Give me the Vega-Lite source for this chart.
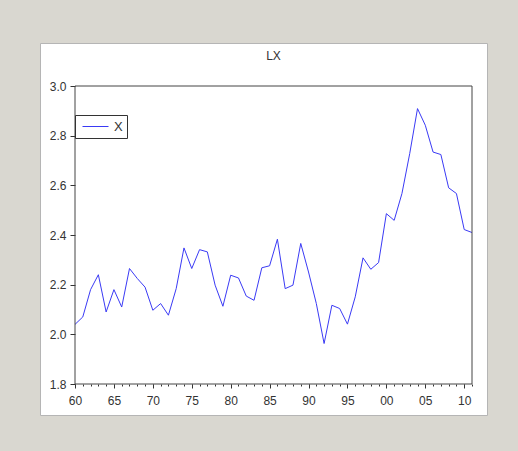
{
  "$schema": "https://vega.github.io/schema/vega-lite/v6.json",
  "width": 447,
  "height": 372,
  "autosize": "none",
  "padding": {"left": 40, "top": 43, "right": 31, "bottom": 36},
  "background": "#d9d7d0",
  "title": {
    "text": "LX",
    "fontSize": 12,
    "fontWeight": "normal",
    "color": "#333333",
    "font": "Liberation Sans",
    "anchor": "middle",
    "frame": "group",
    "offset": -20,
    "dx": 10
  },
  "layer": [
    {
      "data": {
        "values": [
          {"year": 1960, "value": 2.04, "series": "X"},
          {"year": 1961, "value": 2.07, "series": "X"},
          {"year": 1962, "value": 2.18, "series": "X"},
          {"year": 1963, "value": 2.24, "series": "X"},
          {"year": 1964, "value": 2.09, "series": "X"},
          {"year": 1965, "value": 2.18, "series": "X"},
          {"year": 1966, "value": 2.11, "series": "X"},
          {"year": 1967, "value": 2.265, "series": "X"},
          {"year": 1968, "value": 2.225, "series": "X"},
          {"year": 1969, "value": 2.19, "series": "X"},
          {"year": 1970, "value": 2.097, "series": "X"},
          {"year": 1971, "value": 2.124, "series": "X"},
          {"year": 1972, "value": 2.077, "series": "X"},
          {"year": 1973, "value": 2.184, "series": "X"},
          {"year": 1974, "value": 2.348, "series": "X"},
          {"year": 1975, "value": 2.265, "series": "X"},
          {"year": 1976, "value": 2.341, "series": "X"},
          {"year": 1977, "value": 2.332, "series": "X"},
          {"year": 1978, "value": 2.198, "series": "X"},
          {"year": 1979, "value": 2.113, "series": "X"},
          {"year": 1980, "value": 2.238, "series": "X"},
          {"year": 1981, "value": 2.227, "series": "X"},
          {"year": 1982, "value": 2.154, "series": "X"},
          {"year": 1983, "value": 2.137, "series": "X"},
          {"year": 1984, "value": 2.268, "series": "X"},
          {"year": 1985, "value": 2.276, "series": "X"},
          {"year": 1986, "value": 2.383, "series": "X"},
          {"year": 1987, "value": 2.184, "series": "X"},
          {"year": 1988, "value": 2.198, "series": "X"},
          {"year": 1989, "value": 2.366, "series": "X"},
          {"year": 1990, "value": 2.251, "series": "X"},
          {"year": 1991, "value": 2.124, "series": "X"},
          {"year": 1992, "value": 1.963, "series": "X"},
          {"year": 1993, "value": 2.117, "series": "X"},
          {"year": 1994, "value": 2.104, "series": "X"},
          {"year": 1995, "value": 2.041, "series": "X"},
          {"year": 1996, "value": 2.151, "series": "X"},
          {"year": 1997, "value": 2.308, "series": "X"},
          {"year": 1998, "value": 2.262, "series": "X"},
          {"year": 1999, "value": 2.289, "series": "X"},
          {"year": 2000, "value": 2.486, "series": "X"},
          {"year": 2001, "value": 2.459, "series": "X"},
          {"year": 2002, "value": 2.567, "series": "X"},
          {"year": 2003, "value": 2.728, "series": "X"},
          {"year": 2004, "value": 2.909, "series": "X"},
          {"year": 2005, "value": 2.842, "series": "X"},
          {"year": 2006, "value": 2.734, "series": "X"},
          {"year": 2007, "value": 2.724, "series": "X"},
          {"year": 2008, "value": 2.59, "series": "X"},
          {"year": 2009, "value": 2.567, "series": "X"},
          {"year": 2010, "value": 2.422, "series": "X"},
          {"year": 2011, "value": 2.41, "series": "X"}
        ]
      },
      "mark": {"type": "line", "strokeWidth": 1, "clip": false},
      "encoding": {
        "x": {
          "field": "year",
          "type": "quantitative",
          "scale": {"domain": [1960, 2011], "range": [35, 432], "nice": false, "zero": false},
          "axis": {
            "orient": "bottom",
            "title": null,
            "offset": -31,
            "values": [1960, 1965, 1970, 1975, 1980, 1985, 1990, 1995, 2000, 2005, 2010],
            "format": "d",
            "labelExpr": "substring(datum.label, 2)",
            "tickSize": 4,
            "labelPadding": 7,
            "labelFlush": false,
            "labelOverlap": false
          }
        },
        "y": {
          "field": "value",
          "type": "quantitative",
          "scale": {"domain": [1.8, 3.0], "range": [341, 43], "nice": false, "zero": false},
          "axis": {
            "title": null,
            "offset": -35,
            "values": [1.8, 2.0, 2.2, 2.4, 2.6, 2.8, 3.0],
            "format": ".1f",
            "tickSize": 5,
            "labelPadding": 4
          }
        },
        "color": {
          "field": "series",
          "type": "nominal",
          "scale": {"range": ["#3a3af5"]},
          "legend": {
            "title": null,
            "orient": "none",
            "legendX": 35,
            "legendY": 72,
            "strokeColor": "#333333",
            "padding": 4,
            "symbolType": "M-0.571,0H3.143",
            "symbolSize": 196,
            "symbolStrokeWidth": 1,
            "symbolFillColor": "transparent",
            "symbolStrokeColor": "#3a3af5",
            "labelFontSize": 13,
            "labelOffset": 20,
            "labelColor": "#333333",
            "labelFont": "Liberation Sans"
          }
        }
      }
    },
    {
      "data": {"values": [{"x0": 1960, "x1": 2011, "y0": 1.8, "y1": 3.0}]},
      "mark": {"type": "rect", "fill": null, "fillOpacity": 0, "stroke": "#444444", "strokeWidth": 1},
      "encoding": {
        "x": {
          "field": "x0",
          "type": "quantitative",
          "axis": {
            "orient": "bottom",
            "title": null,
            "offset": -31,
            "values": [1960, 1961, 1962, 1963, 1964, 1965, 1966, 1967, 1968, 1969, 1970, 1971, 1972, 1973, 1974, 1975, 1976, 1977, 1978, 1979, 1980, 1981, 1982, 1983, 1984, 1985, 1986, 1987, 1988, 1989, 1990, 1991, 1992, 1993, 1994, 1995, 1996, 1997, 1998, 1999, 2000, 2001, 2002, 2003, 2004, 2005, 2006, 2007, 2008, 2009, 2010, 2011],
            "labels": false,
            "tickSize": 2
          }
        },
        "x2": {"field": "x1"},
        "y": {
          "field": "y0",
          "type": "quantitative",
          "axis": {
            "title": null,
            "offset": -35,
            "values": [1.8, 2.0, 2.2, 2.4, 2.6, 2.8, 3.0],
            "format": ".1f",
            "tickSize": 5,
            "labelPadding": 4
          }
        },
        "y2": {"field": "y1"}
      }
    }
  ],
  "resolve": {"axis": {"x": "independent"}},
  "config": {
    "font": "Liberation Sans",
    "view": {"fill": "white", "stroke": "#b5b5b5", "strokeWidth": 1},
    "axis": {
      "grid": false,
      "domain": false,
      "labelFont": "Liberation Sans",
      "labelFontSize": 12,
      "labelColor": "#333333",
      "tickColor": "#333333"
    }
  }
}
